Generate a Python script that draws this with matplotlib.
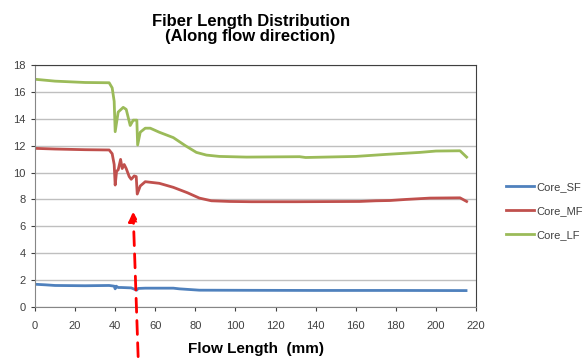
import numpy as np
import matplotlib.pyplot as plt

plt.rcParams['font.family'] = ['Liberation Sans', 'DejaVu Sans']

# Flow length (mm) and fiber length per series
sf_x = [0, 5, 10, 25, 37, 39.5, 40, 40.5, 41.5, 43, 48, 50, 50.7, 51.5, 55, 69, 72, 79, 82,
        107, 140, 180, 215]
sf_y = [1.69, 1.65, 1.6, 1.58, 1.6, 1.55, 1.35, 1.55, 1.45, 1.45, 1.42, 1.3, 1.25, 1.38, 1.4,
        1.4, 1.35, 1.28, 1.25, 1.24, 1.23, 1.23, 1.22]

mf_x = [0, 10, 25, 37, 38.5, 39.5, 40, 40.7, 41.5, 42.7, 43.5, 44.5, 45.5, 47, 48, 49.5,
        50.5, 51, 52.5, 55, 62, 69, 76, 82, 88, 97, 108, 130, 162, 170, 177, 185, 197, 212,
        215.3]
mf_y = [11.8, 11.75, 11.7, 11.68, 11.4, 10.6, 9.07, 10.1, 10.2, 10.98, 10.3, 10.6, 10.3, 9.7,
        9.5, 9.75, 9.7, 8.4, 9.0, 9.32, 9.2, 8.9, 8.5, 8.1, 7.9, 7.85, 7.83, 7.83, 7.85, 7.9,
        7.92, 8.0, 8.1, 8.12, 7.85]

lf_x = [0, 10, 25, 37, 38.5, 39.5, 40, 41.5, 44, 45.5, 47.5, 49, 50.8, 51.2, 52.5, 55, 57.5,
        62, 69, 75, 80.5, 85.5, 92, 105.5, 132, 135, 160, 175, 192, 200, 212, 215.3]
lf_y = [16.94, 16.8, 16.7, 16.68, 16.3, 15.3, 13.04, 14.5, 14.85, 14.7, 13.5, 13.9, 13.9,
        12.05, 13.0, 13.3, 13.3, 13.0, 12.6, 12.0, 11.5, 11.3, 11.2, 11.15, 11.18, 11.12, 11.2,
        11.35, 11.5, 11.6, 11.62, 11.15]

series = [('Core_SF', sf_x, sf_y, '#4F81BD'),
          ('Core_MF', mf_x, mf_y, '#C0504D'),
          ('Core_LF', lf_x, lf_y, '#9BBB59')]

fig = plt.figure(figsize=(5.87, 3.58), dpi=100)
ax = fig.add_axes([0.0596, 0.1425, 0.7514, 0.6759])

for name, xs, ys, col in series:
    ax.plot(xs, ys, color=col, lw=2.0, label=name, solid_joinstyle='round')

ax.set_xlim(0, 220)
ax.set_ylim(0, 18)
ax.set_xticks(np.arange(0, 221, 20))
ax.set_yticks(np.arange(0, 19, 2))
ax.grid(axis='y', color='#BFBFBF', lw=1.0)
ax.set_axisbelow(True)
ax.tick_params(labelsize=8, colors='#404040', length=3, width=0.8)
ax.tick_params(axis='x', pad=7)
ax.spines['left'].set_color('#868686')
ax.spines['bottom'].set_color('#868686')
ax.spines['top'].set_color('#404040')
ax.spines['right'].set_color('#404040')

ax.set_xlabel('Flow Length  (mm)', fontsize=11, fontweight='bold', labelpad=8)
fig.text(0.427, 0.919, 'Fiber Length Distribution\n(Along flow direction)', ha='center',
         va='center', fontsize=12, fontweight='bold', linespacing=1.05)

ax.legend(loc='center left', bbox_to_anchor=(1.045, 0.397), frameon=False, fontsize=8,
          handlelength=2.5, handletextpad=0.2, labelspacing=1.25, labelcolor='#404040')

# red dashed arrow pointing at the dip
ax.annotate('', xy=(48.9, 7.3), xytext=(51.5, -3.9), xycoords='data',
            annotation_clip=False,
            arrowprops=dict(arrowstyle='-|>', color='#FF0000', lw=2, ls=(0, (5, 3)),
                            mutation_scale=14))

fig.savefig('out.png', dpi=100)
